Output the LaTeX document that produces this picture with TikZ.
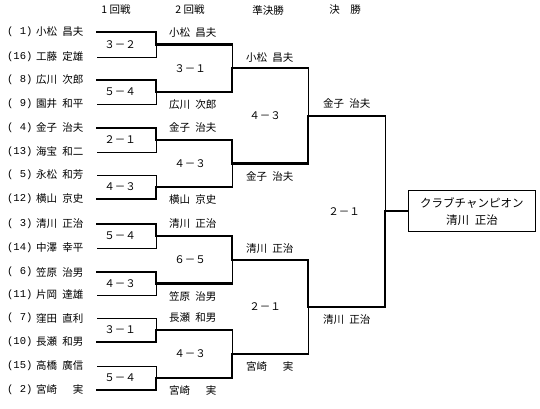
\documentclass[tikz,border=0pt]{standalone}
\usepackage{fontspec}
\setmainfont{Noto Sans CJK JP}
\setmonofont{Liberation Mono}
\usetikzlibrary{calc}

\newcommand{\nm}[2]{#1\hspace{.5em}#2}

\begin{document}
\begin{tikzpicture}[
  x=1pt, y=-1pt,
  win/.style={line width=2.2pt, line cap=rect},
  lose/.style={line width=.8pt},
  every node/.style={font=\fontsize{10.5}{12}\selectfont, inner sep=0pt},
  player/.style={anchor=west},
  seed/.style={anchor=west, font=\fontsize{10.5}{12}\ttfamily},
  champion/.style={draw, line width=.8pt, minimum width=127pt, minimum height=41pt,
    align=center, anchor=west, font=\fontsize{11.5}{17}\selectfont}
]
\useasboundingbox (0,0) rectangle (540,409);

% headings
\node (h1) at (116,10) {1 回戦};
\node (h2) at (190,10) {2 回戦};
\node (h3) at (268,10) {準決勝};
\node (h4) at (345,10) {決\hspace{1em}勝};

% first round entries
\foreach \i/\y/\sd/\nam in {
  1/32/{( 1)}/{\nm{小松}{昌夫}}, 2/57/{(16)}/{\nm{工藤}{定雄}},
  3/80/{( 8)}/{\nm{広川}{次郎}}, 4/104/{( 9)}/{\nm{園井}{和平}},
  5/128/{( 4)}/{\nm{金子}{治夫}}, 6/152/{(13)}/{\nm{海宝}{和二}},
  7/175/{( 5)}/{\nm{永松}{和芳}}, 8/199/{(12)}/{\nm{横山}{京史}},
  9/224/{( 3)}/{\nm{清川}{正治}}, 10/248/{(14)}/{\nm{中澤}{幸平}},
  11/272/{( 6)}/{\nm{笠原}{治男}}, 12/295/{(11)}/{\nm{片岡}{達雄}},
  13/318/{( 7)}/{\nm{窪田}{直利}}, 14/342/{(10)}/{\nm{長瀬}{和男}},
  15/366/{(15)}/{\nm{高橋}{廣信}}, 16/390/{( 2)}/{\nm{宮崎}{\hspace{1em}実}}}{
  \node[seed] (s\i) at (7,\y) {\sd};
  \node[player] (p\i) at (36,\y) {\nam};
  \coordinate (e\i) at (97,\y);
}

% first round
\foreach \t/\b/\k/\ts/\bs/\sc in {
  1/2/1/win/lose/３－２, 3/4/2/win/lose/５－４,
  5/6/3/win/lose/２－１, 7/8/4/lose/win/４－３,
  9/10/5/win/lose/５－４, 11/12/6/win/lose/４－３,
  13/14/7/lose/win/３－１, 15/16/8/lose/win/５－４}{
  \coordinate (m\k) at ($(e\t)!.5!(e\b)+(59,0)$);
  \draw[\ts] (e\t) -- (e\t -| m\k) -- (m\k);
  \draw[\bs] (e\b) -- (e\b -| m\k) -- (m\k);
  \node (c\k) at ($(m\k)+(-36,0)$) {\sc};
}

% second round
\foreach \t/\b/\k/\ts/\bs/\sc/\tn/\bn in {
  1/2/1/lose/win/３－１/{\nm{小松}{昌夫}}/{\nm{広川}{次郎}},
  3/4/2/win/lose/４－３/{\nm{金子}{治夫}}/{\nm{横山}{京史}},
  5/6/3/win/lose/６－５/{\nm{清川}{正治}}/{\nm{笠原}{治男}},
  7/8/4/lose/win/４－３/{\nm{長瀬}{和男}}/{\nm{宮崎}{\hspace{1em}実}}}{
  \coordinate (q\k) at ($(m\t)!.5!(m\b)+(76,0)$);
  \draw[\ts] (m\t -| q\k) -- (q\k);
  \draw[\bs] (m\b -| q\k) -- (q\k);
  \draw[win] (m\t) -- (m\t -| q\k);
  \draw[win] (m\b) -- (m\b -| q\k);
  \node[player] (u\t) at ($(m\t)+(13,-12)$) {\tn};
  \node[player] (u\b) at ($(m\b)+(13,13)$) {\bn};
  \node (d\k) at ($(q\k)+(-42,0)$) {\sc};
}

% semi-finals
\foreach \t/\b/\k/\ts/\bs/\sc/\tn/\bn in {
  1/2/1/lose/win/４－３/{\nm{小松}{昌夫}}/{\nm{金子}{治夫}},
  3/4/2/win/lose/２－１/{\nm{清川}{正治}}/{\nm{宮崎}{\hspace{1em}実}}}{
  \coordinate (f\k) at ($(q\t)!.5!(q\b)+(76,0)$);
  \draw[\ts] (q\t -| f\k) -- (f\k);
  \draw[\bs] (q\b -| f\k) -- (f\k);
  \draw[win] (q\t) -- (q\t -| f\k);
  \draw[win] (q\b) -- (q\b -| f\k);
  \node[player] (w\t) at ($(q\t)+(14,-11)$) {\tn};
  \node[player] (w\b) at ($(q\b)+(14,13)$) {\bn};
  \node (g\k) at ($(f\k)+(-43,0)$) {\sc};
}

% final
\coordinate (z) at ($(f1)!.5!(f2)+(77,0)$);
\draw[lose] (f1 -| z) -- (z);
\draw[win] (f2 -| z) -- (z);
\draw[win] (f1) -- (f1 -| z);
\draw[win] (f2) -- (f2 -| z);
\node[player] (v1) at ($(f1)+(15,-12)$) {\nm{金子}{治夫}};
\node[player] (v2) at ($(f2)+(15,13)$) {\nm{清川}{正治}};
\node (fs) at ($(z)+(-41,0)$) {２－１};
\node[champion] (champ) at ($(z)+(23,0)$) {クラブチャンピオン\\\nm{清川}{正治}};
\draw[win] (z) -- (champ);

\end{tikzpicture}
\end{document}
